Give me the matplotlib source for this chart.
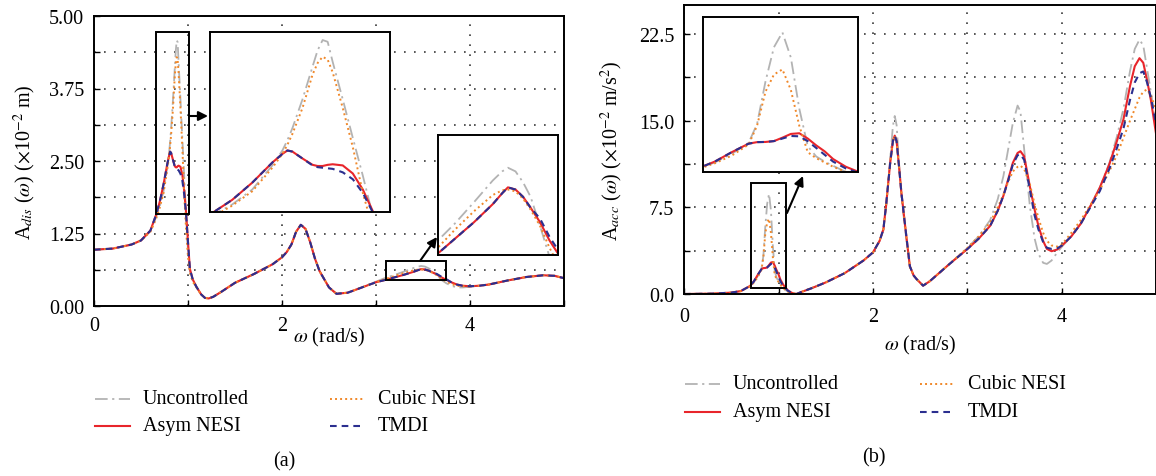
import numpy as np
import matplotlib
matplotlib.use('Agg')
import matplotlib.pyplot as plt
from matplotlib.lines import Line2D
from matplotlib.patches import Rectangle

# ---------------- data : panel (a) displacement ----------------
omega_a = [0, 0.2, 0.4, 0.5, 0.6, 0.66, 0.70, 0.74, 0.78, 0.80,
           0.81, 0.82, 0.84, 0.86, 0.87, 0.88, 0.89, 0.90, 0.92, 0.94,
           0.96, 0.98, 1.00, 1.02, 1.05, 1.09, 1.14, 1.18, 1.22, 1.27,
           1.35, 1.5, 1.7, 1.9, 2.0, 2.05, 2.1, 2.15, 2.2, 2.25,
           2.3, 2.35, 2.4, 2.5, 2.58, 2.7, 2.8, 3.0, 3.1, 3.2,
           3.3, 3.4, 3.45, 3.48, 3.52, 3.56, 3.6, 3.65, 3.7, 3.75,
           3.8, 3.86, 3.92, 4.0, 4.1, 4.2, 4.4, 4.6, 4.78, 4.9,
           5.0]

dis_uncontrolled = [0.97, 0.99, 1.06, 1.13, 1.29, 1.53, 1.72, 1.98, 2.40, 2.66,
                    2.84, 3.05, 3.55, 4.12, 4.40, 4.58, 4.55, 4.20, 3.55, 2.88,
                    2.22, 1.52, 0.95, 0.60, 0.42, 0.32, 0.20, 0.14, 0.13, 0.16,
                    0.24, 0.40, 0.55, 0.72, 0.84, 0.93, 1.06, 1.28, 1.40, 1.33,
                    1.10, 0.82, 0.60, 0.32, 0.21, 0.23, 0.29, 0.42, 0.485, 0.537,
                    0.595, 0.655, 0.68, 0.69, 0.68, 0.65, 0.61, 0.53, 0.445, 0.39,
                    0.35, 0.32, 0.32, 0.33, 0.35, 0.37, 0.44, 0.50, 0.53, 0.52,
                    0.48]

dis_asym = [0.97, 0.99, 1.06, 1.13, 1.30, 1.57, 1.80, 2.10, 2.45, 2.60,
            2.66, 2.64, 2.52, 2.41, 2.39, 2.39, 2.41, 2.42, 2.40, 2.26,
            1.98, 1.60, 1.10, 0.64, 0.46, 0.33, 0.20, 0.14, 0.13, 0.16,
            0.24, 0.40, 0.55, 0.72, 0.84, 0.93, 1.06, 1.28, 1.40, 1.33,
            1.10, 0.82, 0.60, 0.32, 0.21, 0.23, 0.29, 0.41, 0.45, 0.495,
            0.54, 0.59, 0.62, 0.636, 0.63, 0.61, 0.58, 0.54, 0.49, 0.45,
            0.41, 0.37, 0.35, 0.34, 0.35, 0.37, 0.44, 0.50, 0.53, 0.52,
            0.48]

dis_cubic = [0.97, 0.99, 1.06, 1.13, 1.28, 1.50, 1.70, 1.95, 2.36, 2.60,
             2.76, 2.95, 3.40, 3.98, 4.18, 4.29, 4.24, 4.02, 3.40, 2.72,
             1.92, 1.30, 0.85, 0.58, 0.42, 0.32, 0.20, 0.14, 0.13, 0.16,
             0.24, 0.40, 0.55, 0.72, 0.84, 0.93, 1.06, 1.28, 1.40, 1.33,
             1.10, 0.82, 0.60, 0.32, 0.21, 0.23, 0.29, 0.41, 0.465, 0.52,
             0.57, 0.615, 0.628, 0.63, 0.625, 0.605, 0.575, 0.53, 0.47, 0.42,
             0.38, 0.35, 0.34, 0.34, 0.35, 0.37, 0.44, 0.50, 0.53, 0.52,
             0.48]

dis_tmdi = [0.97, 0.99, 1.06, 1.13, 1.30, 1.57, 1.80, 2.10, 2.45, 2.60,
            2.66, 2.64, 2.52, 2.40, 2.37, 2.36, 2.35, 2.34, 2.28, 2.16,
            1.92, 1.58, 1.10, 0.64, 0.46, 0.33, 0.20, 0.14, 0.13, 0.16,
            0.24, 0.40, 0.55, 0.72, 0.84, 0.93, 1.06, 1.28, 1.40, 1.33,
            1.10, 0.82, 0.60, 0.32, 0.21, 0.23, 0.29, 0.41, 0.45, 0.495,
            0.54, 0.59, 0.62, 0.636, 0.63, 0.61, 0.58, 0.55, 0.50, 0.46,
            0.41, 0.37, 0.35, 0.34, 0.35, 0.37, 0.44, 0.50, 0.53, 0.52,
            0.48]

# ---------------- data : panel (b) acceleration ----------------
omega_b = [0, 0.3, 0.5, 0.6, 0.7, 0.74, 0.78, 0.82, 0.84, 0.86,
           0.88, 0.90, 0.92, 0.94, 0.96, 0.98, 1.0, 1.02, 1.05, 1.1,
           1.15, 1.19, 1.25, 1.35, 1.5, 1.7, 1.9, 2.0, 2.07, 2.11,
           2.14, 2.18, 2.21, 2.23, 2.25, 2.27, 2.30, 2.34, 2.39, 2.43,
           2.46, 2.53, 2.6, 2.67, 2.81, 3.0, 3.12, 3.24, 3.32, 3.38,
           3.43, 3.48, 3.53, 3.56, 3.60, 3.66, 3.71, 3.75, 3.80, 3.84,
           3.89, 3.95, 4.0, 4.1, 4.2, 4.3, 4.4, 4.5, 4.58, 4.65,
           4.72, 4.77, 4.82, 4.86, 4.90, 4.94, 4.97, 5.0]

acc_uncontrolled = [0.0, 0.03, 0.12, 0.25, 0.68, 1.05, 1.55, 2.20, 3.30, 5.80,
                    7.80, 8.67, 7.20, 4.20, 2.00, 1.40, 1.10, 0.85, 0.50, 0.20,
                    0.05, 0.0, 0.2, 0.5, 1.0, 1.8, 2.9, 3.6, 4.6, 5.5,
                    7.6, 11.5, 14.5, 15.4, 14.6, 12.0, 8.5, 5.6, 2.3, 1.6,
                    1.3, 0.72, 1.1, 1.6, 2.6, 4.0, 5.0, 6.4, 8.2, 10.2,
                    12.5, 14.8, 16.3, 15.8, 12.5, 7.6, 4.8, 3.5, 2.7, 2.6,
                    2.9, 3.6, 4.1, 5.0, 6.1, 7.6, 9.2, 11.3, 13.6, 16.0,
                    19.3, 21.2, 22.0, 21.5, 19.5, 17.5, 16.0, 14.2]

acc_asym = [0.0, 0.03, 0.12, 0.25, 0.70, 1.10, 1.65, 2.15, 2.24, 2.25,
            2.30, 2.50, 2.72, 2.76, 2.45, 2.05, 1.70, 1.25, 0.80, 0.30,
            0.06, 0.0, 0.2, 0.5, 1.0, 1.8, 2.9, 3.6, 4.6, 5.6,
            7.8, 11.2, 13.2, 13.7, 13.2, 11.5, 8.8, 5.9, 2.4, 1.6,
            1.3, 0.72, 1.1, 1.6, 2.6, 3.9, 4.8, 5.9, 7.2, 8.5,
            9.9, 11.35, 12.2, 12.35, 11.9, 9.3, 7.3, 5.9, 4.6, 3.9,
            3.7, 3.85, 4.2, 5.0, 6.1, 7.6, 9.2, 11.2, 13.2, 15.1,
            18.0, 19.7, 20.4, 20.0, 18.5, 16.8, 15.2, 13.6]

acc_cubic = [0.0, 0.03, 0.12, 0.25, 0.66, 1.00, 1.45, 2.10, 3.20, 5.20,
             6.20, 6.50, 5.30, 3.20, 1.65, 1.30, 1.05, 0.80, 0.50, 0.20,
             0.05, 0.0, 0.2, 0.5, 1.0, 1.8, 2.9, 3.6, 4.6, 5.6,
             7.8, 11.2, 13.2, 13.7, 13.2, 11.5, 8.8, 5.9, 2.4, 1.6,
             1.3, 0.72, 1.1, 1.6, 2.6, 4.0, 5.0, 6.2, 7.5, 8.6,
             9.7, 10.6, 11.0, 11.1, 10.8, 9.5, 7.8, 6.6, 5.3, 4.6,
             4.2, 4.1, 4.3, 5.3, 6.4, 7.7, 9.0, 10.6, 12.0, 13.5,
             15.0, 16.0, 17.0, 17.5, 17.7, 17.2, 16.5, 15.7]

acc_tmdi = [0.0, 0.03, 0.12, 0.25, 0.70, 1.10, 1.65, 2.15, 2.24, 2.25,
            2.30, 2.45, 2.60, 2.58, 2.30, 1.90, 1.50, 1.10, 0.70, 0.28,
            0.06, 0.0, 0.2, 0.5, 1.0, 1.8, 2.9, 3.6, 4.6, 5.6,
            7.8, 11.2, 13.2, 13.7, 13.2, 11.5, 8.8, 5.9, 2.4, 1.6,
            1.3, 0.72, 1.1, 1.6, 2.6, 3.9, 4.8, 5.9, 7.2, 8.5,
            9.8, 11.2, 12.0, 12.1, 11.6, 9.0, 6.8, 5.6, 4.5, 4.0,
            3.9, 3.95, 4.2, 5.0, 6.1, 7.5, 8.9, 10.8, 12.6, 14.3,
            16.8, 18.3, 19.1, 19.25, 18.3, 17.0, 15.8, 14.5]

names = ['Uncontrolled', 'Asym NESI', 'Cubic NESI', 'TMDI']
yticks_a = [0, 0.625, 1.25, 1.875, 2.5, 3.125, 3.75, 4.375, 5.0]
ylabels_a = ['0.00', '', '1.25', '', '2.50', '', '3.75', '', '5.00']
yticks_b = [0, 3.75, 7.5, 11.25, 15.0, 18.75, 22.5]
ylabels_b = ['0.0', '', '7.5', '', '15.0', '', '22.5']
xticks = [0, 1, 2, 3, 4, 5]
xlabels = ['0', '', '2', '', '4', '']

# ---------------- styling ----------------
plt.rcParams['font.family'] = ['Liberation Serif', 'DejaVu Serif']
plt.rcParams['mathtext.fontset'] = 'stix'
FS = 14.5

styles = [
    dict(color='#b3b3b3', lw=1.3, ls=(0, (7, 2.5, 1.2, 2.5))),
    dict(color='#e8252b', lw=1.5, ls='-'),
    dict(color='#f0882a', lw=1.4, ls=(0, (1, 1.6))),
    dict(color='#2b2f8f', lw=1.5, ls=(0, (3.2, 2.4))),
]

W, H = 1156, 477
fig = plt.figure(figsize=(W / 100, H / 100), dpi=100)


def add_ax(x0, y0, x1, y1):
    return fig.add_axes([x0 / W, 1 - y1 / H, (x1 - x0) / W, (y1 - y0) / H])


def draw(ax, w, series):
    for vals, st in zip(series, styles):
        ax.plot(w, vals, **st)


def setup(ax, ylim, yt, yl, xpad, ylab, xlab_y, ylab_x):
    ax.set_xlim(0, 5)
    ax.set_ylim(*ylim)
    ax.set_xticks(xticks)
    ax.set_xticklabels(xlabels)
    ax.set_yticks(yt)
    ax.set_yticklabels(yl)
    ax.tick_params(direction='in', length=4, width=1, labelsize=FS)
    ax.tick_params(axis='x', pad=xpad)
    ax.tick_params(axis='y', pad=7)
    ax.grid(True, ls=(0, (1, 5)), color='#3a3a3a', lw=1.2)
    ax.set_axisbelow(True)
    for s in ax.spines.values():
        s.set_linewidth(1.4)
    ax.set_xlabel(r'$\omega$ (rad/s)', fontsize=FS)
    ax.xaxis.label.set_va('center')
    ax.xaxis.set_label_coords(0.5, xlab_y)
    ax.set_ylabel(ylab, fontsize=FS)
    ax.yaxis.label.set_va('center')
    ax.yaxis.set_label_coords(ylab_x, 0.5)


def inset(main, box, x0, y0, x1, y1, w, series):
    (bx0, bx1), (by0, by1) = box
    main.add_patch(Rectangle((bx0, by0), bx1 - bx0, by1 - by0, fill=False,
                             ec='k', lw=1.4, zorder=6))
    a = add_ax(x0, y0, x1, y1)
    draw(a, w, series)
    a.set_xlim(bx0, bx1)
    a.set_ylim(by0, by1)
    a.set_xticks([])
    a.set_yticks([])
    for s in a.spines.values():
        s.set_linewidth(1.4)
    return a


def arrow(ax, p0, p1):
    ax.annotate('', xy=(p1[0], H - p1[1]), xytext=(p0[0], H - p0[1]),
                xycoords='figure pixels', textcoords='figure pixels',
                annotation_clip=False,
                arrowprops=dict(arrowstyle='-|>', color='k', lw=1.5,
                                mutation_scale=14, shrinkA=0, shrinkB=0))


def legend(xh, xt, ys):
    for i, (nm, st) in enumerate(zip(names, styles)):
        col, row = i // 2, i % 2
        y = 1 - ys[row] / H
        fig.add_artist(Line2D([xh[col] / W, (xh[col] + 35) / W], [y, y],
                              transform=fig.transFigure, **st))
        fig.text(xt[col] / W, y, nm, fontsize=FS, va='center', ha='left')


ser_a = [dis_uncontrolled, dis_asym, dis_cubic, dis_tmdi]
ser_b = [acc_uncontrolled, acc_asym, acc_cubic, acc_tmdi]

# ---------------- panel (a) ----------------
axa = add_ax(94, 17, 564, 307)
draw(axa, omega_a, ser_a)
setup(axa, (0, 5), yticks_a, ylabels_a, 7,
      r'A$_{dis}$ ($\omega$) ($\times$10$^{-2}$ m)', -0.105, -0.147)
inset(axa, ((0.656, 1.014), (1.59, 4.72)), 210, 33, 390, 213, omega_a, ser_a)
inset(axa, ((3.11, 3.745), (0.45, 0.78)), 438, 136, 558, 256, omega_a, ser_a)
arrow(axa, (190, 117), (208, 117))
arrow(axa, (420, 262), (437, 238))

# ---------------- panel (b) ----------------
axb = add_ax(684, 6, 1156.5, 295)
draw(axb, omega_b, ser_b)
setup(axb, (0, 25), yticks_b, ylabels_b, 9,
      r'A$_{acc}$ ($\omega$) ($\times$10$^{-2}$ m/s$^{2}$)', -0.173, -0.152)
inset(axb, ((0.712, 1.079), (0.49, 9.57)), 703, 18, 858, 173, omega_b, ser_b)
arrow(axb, (787, 214), (803, 177))

# ---------------- legends & captions ----------------
legend((95, 330), (143, 378), (400, 427))
legend((685, 920), (733, 968), (385, 413))
fig.text(284 / W, 1 - 462 / H, '(a)', fontsize=FS, ha='center', va='center')
fig.text(874 / W, 1 - 458 / H, '(b)', fontsize=FS, ha='center', va='center')

fig.savefig('out.png', dpi=100)
